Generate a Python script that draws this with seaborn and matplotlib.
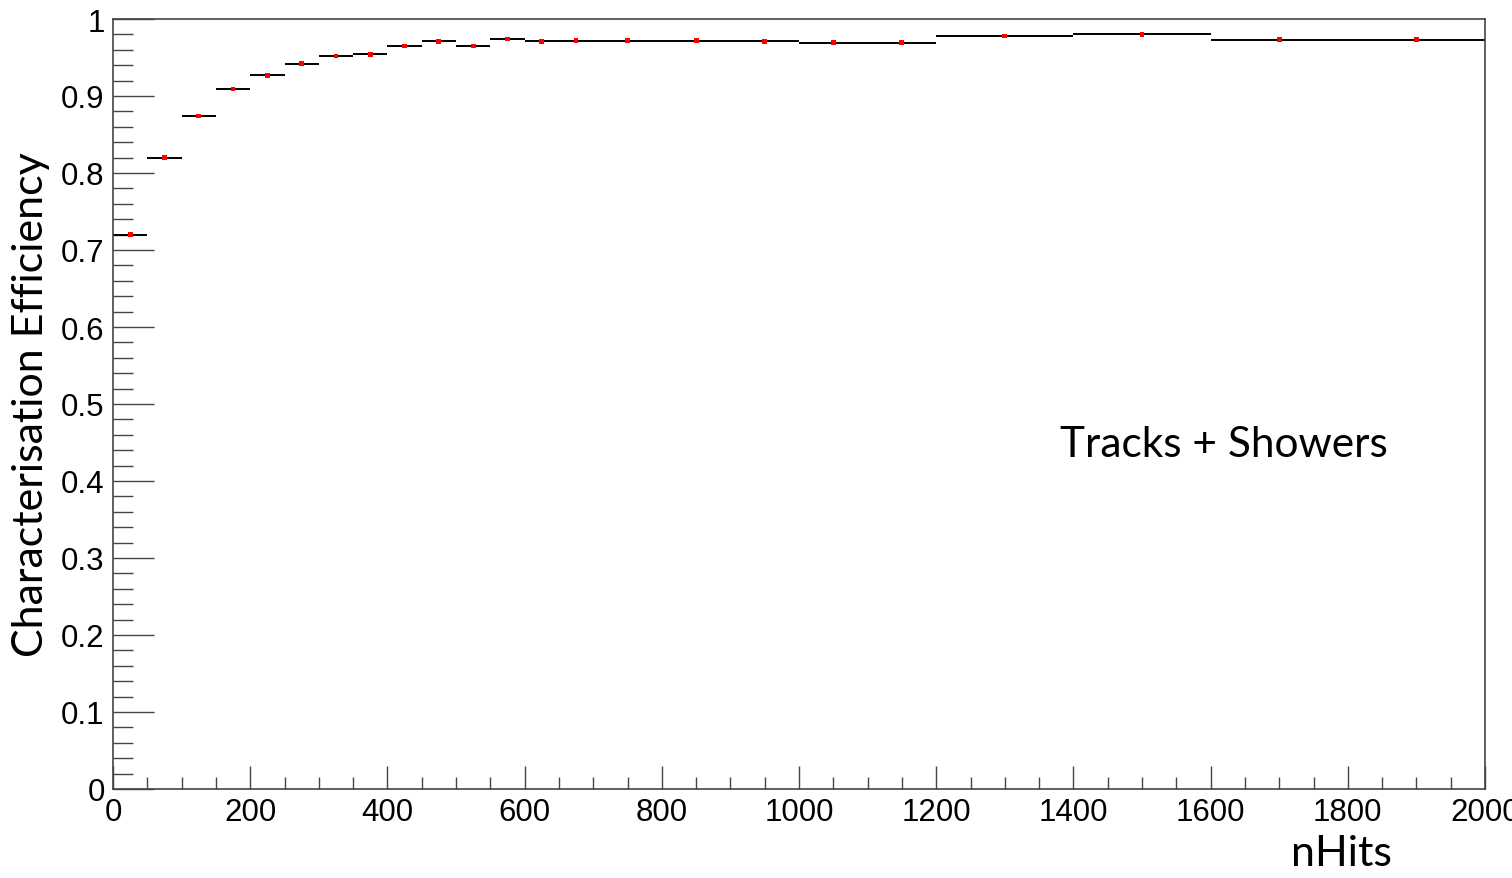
import matplotlib
matplotlib.use("Agg")
import matplotlib.pyplot as plt
from matplotlib.ticker import MultipleLocator
import seaborn as sns
import numpy as np
import pandas as pd

# bin edges (nHits) and efficiency per bin
bin_lo = [0, 50, 100, 150, 200, 250, 300, 350, 400, 450, 500, 550, 600, 650,
          700, 800, 900, 1000, 1100, 1200, 1400, 1600, 1800]
bin_hi = [50, 100, 150, 200, 250, 300, 350, 400, 450, 500, 550, 600, 650, 700,
          800, 900, 1000, 1100, 1200, 1400, 1600, 1800, 2000]
efficiency = [0.720, 0.820, 0.874, 0.909, 0.927, 0.942, 0.952, 0.954, 0.965, 0.971,
              0.965, 0.974, 0.971, 0.972, 0.972, 0.972, 0.971, 0.969, 0.969, 0.978,
              0.980, 0.973, 0.973]

x_ticks = [0, 200, 400, 600, 800, 1000, 1200, 1400, 1600, 1800, 2000]
y_ticks = [0, 0.1, 0.2, 0.3, 0.4, 0.5, 0.6, 0.7, 0.8, 0.9, 1]
y_tick_labels = ["0", "0.1", "0.2", "0.3", "0.4", "0.5", "0.6", "0.7", "0.8", "0.9", "1"]

df = pd.DataFrame({"lo": bin_lo, "hi": bin_hi, "eff": efficiency})
df["centre"] = (df["lo"] + df["hi"]) / 2

sns.set_style("white")
plt.rcParams["font.family"] = ["Liberation Sans", "DejaVu Sans"]
plt.rcParams["text.color"] = "black"
plt.rcParams["axes.labelcolor"] = "black"
plt.rcParams["xtick.labelcolor"] = "black"
plt.rcParams["ytick.labelcolor"] = "black"

fig = plt.figure(figsize=(15.12, 8.79), dpi=100)
ax = fig.add_axes([113 / 1512, 1 - 790 / 879, 1372 / 1512, 770 / 879])

frame = "#444444"

# horizontal bin-width bars
ax.hlines(df["eff"], df["lo"], df["hi"], color="black", lw=1.4, zorder=2)
# bin centre markers
sns.scatterplot(data=df, x="centre", y="eff", ax=ax, color="red", marker="s",
                s=12, edgecolor="none", zorder=3, legend=False)

ax.set_xlim(0, 2000)
ax.set_ylim(0, 1)
ax.set_xticks(x_ticks)
ax.set_yticks(y_ticks)
ax.set_yticklabels(y_tick_labels)
ax.xaxis.set_minor_locator(MultipleLocator(50))
ax.yaxis.set_minor_locator(MultipleLocator(0.02))

# tick lengths in points (dpi 100)
ax.tick_params(axis="x", which="major", direction="in", length=16.5, width=1,
               color=frame, labelsize=22.5, pad=6, bottom=True, top=False)
ax.tick_params(axis="x", which="minor", direction="in", length=8.5, width=1,
               color=frame, bottom=True, top=False)
ax.tick_params(axis="y", which="major", direction="in", length=29.5, width=1,
               color=frame, labelsize=22.5, pad=6, left=True, right=False)
ax.tick_params(axis="y", which="minor", direction="in", length=14.5, width=1,
               color=frame, left=True, right=False)

for sp in ax.spines.values():
    sp.set_color(frame)
    sp.set_linewidth(1.2)
    sp.set_visible(True)

ax.set_xlabel("nHits", fontsize=31, family=["Lato", "DejaVu Sans"], ha="right")
ax.xaxis.set_label_coords(0.932, -0.058)
ax.set_ylabel("Characterisation Efficiency", fontsize=31, family=["Lato", "DejaVu Sans"])
ax.yaxis.set_label_coords(-0.046, 0.501)

ax.text(0.69, 0.448, "Tracks + Showers", transform=ax.transAxes, fontsize=30.5,
        family=["Lato", "DejaVu Sans"], ha="left", va="center")

fig.savefig("out.png", dpi=100)
